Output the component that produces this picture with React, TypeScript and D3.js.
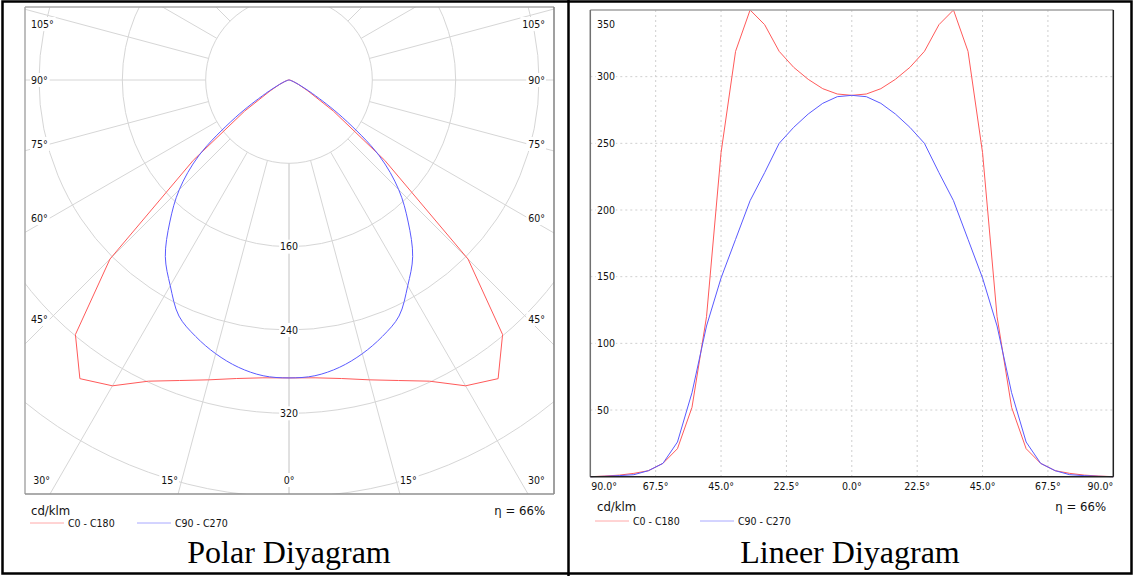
import React from 'react';
import * as d3 from 'd3';

// Photometric data: gamma angles (deg) and intensities (cd/klm)
const gammaAngles = [0, 5, 10, 15, 20, 25, 30, 35, 40, 45, 50, 55, 60, 65, 70, 75, 80, 85, 90];
const c0c180 = [286, 287, 291, 298, 307, 319, 339, 350, 319, 243, 120, 52, 21, 10, 4.5, 2.5, 1.2, 0.5, 0];
const c90c270 = [286, 285, 280, 272, 262, 250, 228, 207, 178, 149, 113, 63, 26, 10, 4.5, 1.5, 0.8, 0.3, 0];

const seriesNames = ['C0 - C180', 'C90 - C270'];

// Polar grid
const polarRings = [80, 160, 240, 320, 400, 480];
const polarRingLabels = [160, 240, 320];
const polarSpokes = [0, 15, 30, 45, 60, 75, 90, 105, 120, 135, 150, 165, 180];
const polarBottomLabels = [0, 15, 30];
const polarSideLabels = [45, 60, 75, 90, 105];

// Linear grid
const linearXTicks = [-90, -67.5, -45, -22.5, 0, 22.5, 45, 67.5, 90];
const linearYTicks = [50, 100, 150, 200, 250, 300, 350];

const unitText = 'cd/klm';
const efficiencyText = 'η = 66%';
const titles = ['Polar Diyagram', 'Lineer Diyagram'];

const COLORS = ['#ff5a5a', '#5a5aff'];
const LEGEND_COLORS = ['#ffa8a8', '#a8a8ff'];
const GRID = '#d6d6d6';
const TICK_FONT = "'DejaVu Sans Condensed', 'DejaVu Sans', Verdana, sans-serif";
const TICK_SIZE = 10.5;
const TEXT = '#111';

const rad = (d: number) => (d * Math.PI) / 180;

// text with a white box behind it, so grid lines stop at the label
function BoxLabel({ x, y, text, anchor = 'middle' }: { x: number; y: number; text: string; anchor?: string }) {
  const w = text.length * 5.9 + 2;
  const left = anchor === 'start' ? x - 1 : anchor === 'end' ? x - w + 1 : x - w / 2;
  return (
    <g>
      <rect x={left} y={y - 7} width={w} height={14} fill="#fff" />
      <text x={x} y={y} dy="0.36em" textAnchor={anchor} fontFamily={TICK_FONT} fontSize={TICK_SIZE} fill={TEXT}>
        {text}
      </text>
    </g>
  );
}

function Legend({ x, y, gap }: { x: number; y: number; gap: number }) {
  return (
    <g>
      {seriesNames.map((name, i) => (
        <g key={name} transform={`translate(${x + i * gap},${y})`}>
          <line x1={0} x2={34} y1={0} y2={0} stroke={LEGEND_COLORS[i]} strokeWidth={1} />
          <text x={38} y={0} dy="0.36em" fontFamily={TICK_FONT} fontSize={TICK_SIZE} fill={TEXT}>
            {name}
          </text>
        </g>
      ))}
    </g>
  );
}

function PolarChart() {
  const frame = { left: 25, top: 7, right: 554, bottom: 494 };
  const cx = 289;
  const cy = 80;
  const r = d3.scaleLinear().domain([0, 480]).range([0, 500]);

  // gamma 0 points down; left half is C180/C270, right half C0/C90
  const curve = (values: number[], smooth: boolean) => {
    const pts: [number, number][] = [];
    for (let i = gammaAngles.length - 1; i >= 0; i--) pts.push([Math.PI + rad(gammaAngles[i]), r(values[i])]);
    for (let i = 1; i < gammaAngles.length; i++) pts.push([Math.PI - rad(gammaAngles[i]), r(values[i])]);
    const gen = d3.lineRadial();
    if (smooth) gen.curve(d3.curveCatmullRom);
    return gen(pts) || '';
  };

  const inner = r(polarRings[0]);
  const labelInset = cx - 50;

  return (
    <g>
      <defs>
        <clipPath id="polar-clip">
          <rect x={frame.left} y={frame.top} width={frame.right - frame.left} height={frame.bottom - frame.top} />
        </clipPath>
      </defs>
      <g clipPath="url(#polar-clip)">
        <g transform={`translate(${cx},${cy})`}>
          {polarSpokes.map(s =>
            [-1, 1].map(side => (
              <line
                key={`${s}-${side}`}
                x1={side * inner * Math.sin(rad(s))}
                y1={inner * Math.cos(rad(s))}
                x2={side * 800 * Math.sin(rad(s))}
                y2={800 * Math.cos(rad(s))}
                stroke={GRID}
                strokeWidth={1}
              />
            ))
          )}
          {polarRings.map(v => (
            <circle key={v} r={r(v)} fill="none" stroke={GRID} strokeWidth={1} />
          ))}
        </g>

        {polarRingLabels.map(v => (
          <BoxLabel key={v} x={cx} y={cy + r(v)} text={String(v)} />
        ))}

        {polarBottomLabels.map(g =>
          g === 0 ? (
            <BoxLabel key={g} x={cx} y={480} text={`${g}°`} />
          ) : (
            [-1, 1].map(side => (
              <BoxLabel
                key={`${g}-${side}`}
                x={cx + side * (frame.bottom - cy) * Math.tan(rad(g))}
                y={480}
                text={`${g}°`}
                anchor={side < 0 ? 'end' : 'start'}
              />
            ))
          )
        )}

        {polarSideLabels.map(g => {
          const y = Math.max(cy + labelInset / Math.tan(rad(g)), frame.top + 17);
          return (
            <g key={g}>
              <BoxLabel x={cx - 258} y={y} text={`${g}°`} anchor="start" />
              <BoxLabel x={cx + 256} y={y} text={`${g}°`} anchor="end" />
            </g>
          );
        })}

        <g transform={`translate(${cx},${cy})`}>
          <path d={curve(c0c180, false)} fill="none" stroke={COLORS[0]} strokeWidth={1} />
          <path d={curve(c90c270, true)} fill="none" stroke={COLORS[1]} strokeWidth={1} />
        </g>
      </g>

      <line x1={frame.left} x2={frame.right} y1={frame.top} y2={frame.top} stroke="#a8a8a8" strokeWidth={1.5} />
      <line x1={frame.left} x2={frame.left} y1={frame.top} y2={frame.bottom} stroke="#a8a8a8" strokeWidth={1.5} />
      <line x1={frame.right} x2={frame.right} y1={frame.top} y2={frame.bottom} stroke="#808080" strokeWidth={1.5} />
      <line x1={frame.left} x2={frame.right} y1={frame.bottom} y2={frame.bottom} stroke="#909090" strokeWidth={1.5} />

      <text x={31} y={510} dy="0.36em" fontFamily={TICK_FONT} fontSize={13} fill={TEXT}>
        {unitText}
      </text>
      <text x={545} y={510} dy="0.36em" textAnchor="end" fontFamily={TICK_FONT} fontSize={13} fill={TEXT}>
        {efficiencyText}
      </text>
      <Legend x={30} y={523} gap={107} />
    </g>
  );
}

function LinearChart() {
  const frame = { left: 590.3, top: 10, right: 1113.3, bottom: 476.7 };
  const x = d3.scaleLinear().domain([-90, 90]).range([frame.left, frame.right]);
  const y = d3.scaleLinear().domain([0, 350]).range([frame.bottom, frame.top]);
  const line = d3
    .line<[number, number]>()
    .x(d => x(d[0]))
    .y(d => y(d[1]));

  const mirrored = (values: number[]): [number, number][] => [
    ...gammaAngles.map((g, i) => [-g, values[i]] as [number, number]).reverse(),
    ...gammaAngles.slice(1).map((g, i) => [g, values[i + 1]] as [number, number]),
  ];

  const fmt = (v: number) => `${Math.abs(v).toFixed(1)}°`;

  return (
    <g>
      {/* dotted grid */}
      {linearXTicks
        .filter(t => t > -90 && t < 90)
        .map(t => (
          <line key={t} x1={x(t)} x2={x(t)} y1={frame.top} y2={frame.bottom} stroke="#cfcfcf" strokeDasharray="2 3" />
        ))}
      {linearYTicks
        .filter(t => t < 350)
        .map(t => (
          <line key={t} x1={frame.left} x2={frame.right} y1={y(t)} y2={y(t)} stroke="#cfcfcf" strokeDasharray="2 3" />
        ))}

      {linearYTicks.map(t => (
        <BoxLabel key={t} x={597} y={Math.max(y(t), frame.top + 14)} text={String(t)} anchor="start" />
      ))}

      <path d={line(mirrored(c0c180)) || ''} fill="none" stroke={COLORS[0]} strokeWidth={1} />
      <path d={line(mirrored(c90c270)) || ''} fill="none" stroke={COLORS[1]} strokeWidth={1} />

      <line x1={frame.left} x2={frame.right} y1={frame.top} y2={frame.top} stroke="#a0a0a0" strokeWidth={1.5} />
      <line x1={frame.left} x2={frame.left} y1={frame.top} y2={frame.bottom} stroke="#707070" strokeWidth={1.5} />
      <line x1={frame.right} x2={frame.right} y1={frame.top} y2={frame.bottom} stroke="#222" strokeWidth={1.5} />
      <line x1={frame.left} x2={frame.right} y1={frame.bottom} y2={frame.bottom} stroke="#222" strokeWidth={1.5} />

      {linearXTicks.map((t, i) => (
        <text
          key={i}
          x={i === 0 ? frame.left + 1 : i === linearXTicks.length - 1 ? frame.right : x(t)}
          y={486}
          dy="0.36em"
          textAnchor={i === 0 ? 'start' : i === linearXTicks.length - 1 ? 'end' : 'middle'}
          fontFamily={TICK_FONT}
          fontSize={TICK_SIZE}
          fill={TEXT}
        >
          {fmt(t)}
        </text>
      ))}

      <text x={597} y={506} dy="0.36em" fontFamily={TICK_FONT} fontSize={13} fill={TEXT}>
        {unitText}
      </text>
      <text x={1106} y={506} dy="0.36em" textAnchor="end" fontFamily={TICK_FONT} fontSize={13} fill={TEXT}>
        {efficiencyText}
      </text>
      <Legend x={595} y={521} gap={105} />
    </g>
  );
}

export default function App() {
  return (
    <svg
      width={1134}
      height={576}
      style={{ position: 'absolute', left: 0, top: 0, background: '#fff' }}
    >
      <rect x={0} y={0} width={1134} height={576} fill="#fff" />
      <PolarChart />
      <LinearChart />

      <text x={289} y={563} textAnchor="middle" fontFamily="'Liberation Serif', 'Times New Roman', serif" fontSize={32} fill="#000">
        {titles[0]}
      </text>
      <text x={850} y={563} textAnchor="middle" fontFamily="'Liberation Serif', 'Times New Roman', serif" fontSize={32} fill="#000">
        {titles[1]}
      </text>

      {/* table borders */}
      <rect x={2.5} y={1.5} width={1129} height={572} fill="none" stroke="#000" strokeWidth={2.5} />
      <line x1={568.5} x2={568.5} y1={0} y2={576} stroke="#000" strokeWidth={2.5} />
    </svg>
  );
}
